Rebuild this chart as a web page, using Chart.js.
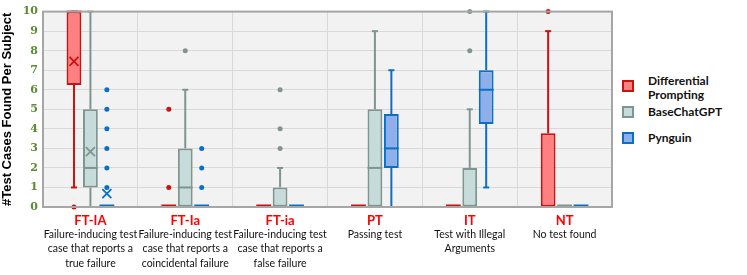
<!DOCTYPE html>
<html>
<head>
<meta charset="utf-8">
<script src="https://cdn.jsdelivr.net/npm/chart.js@4.4.1/dist/chart.umd.min.js"></script>
<style>
  body { margin: 0; background: #fff; }
  #wrap { position: relative; width: 747px; height: 275px; }
  #box { position: absolute; left: 0; top: 0; width: 618px; height: 275px; }
  #legend { position: absolute; left: 622px; top: 0; font-family: Lato, "Open Sans", sans-serif; font-weight: bold; font-size: 12px; color: #111; }
  .item { position: absolute; left: 0; white-space: nowrap; }
  .sw { position: absolute; left: 0; width: 8px; height: 8px; border: 2px solid; }
  .lbl { position: absolute; left: 26px; line-height: 13.5px; }
</style>
</head>
<body>
<div id="wrap">
  <div id="box"><canvas id="boxChart"></canvas></div>
  <div id="legend"></div>
</div>
<script>
const categories = ['FT-IA', 'FT-Ia', 'FT-ia', 'PT', 'IT', 'NT'];
const descriptions = [
  ['Failure-inducing test', 'case that reports a', 'true failure'],
  ['Failure-inducing test', 'case that reports a', 'coincidental failure'],
  ['Failure-inducing test', 'case that reports a', 'false failure'],
  ['Passing test'],
  ['Test with Illegal', 'Arguments'],
  ['No test found']
];
const yTicks = [0, 1, 2, 3, 4, 5, 6, 7, 8, 9, 10];

// Differential Prompting
const dpQ1 = [6.25, 0, 0, 0, 0, 0];
const dpQ3 = [10, 0, 0, 0, 0, 3.77];
const dpMedian = [10, 0, 0, 0, 0, 0];
const dpLow = [1, 0, 0, 0, 0, 0];
const dpHigh = [10, 0, 0, 0, 0, 9];
const dpMean = [7.45, null, null, null, null, null];
const dpOutliers = [[0], [1, 5], [], [], [], [10]];

// BaseChatGPT
const baseQ1 = [1, 0, 0, 0, 0, 0];
const baseQ3 = [5, 3, 1, 5, 2, 0];
const baseMedian = [2, 1, 0, 2, 0, 0];
const baseLow = [0, 0, 0, 0, 0, 0];
const baseHigh = [10, 6, 2, 9, 5, 0];
const baseMean = [2.83, null, null, null, null, null];
const baseOutliers = [[], [8], [3, 4, 6], [], [8, 10], []];

// Pynguin
const pyQ1 = [0, 0, 0, 2, 4.25, 0];
const pyQ3 = [0, 0, 0, 4.76, 7, 0];
const pyMedian = [0, 0, 0, 3, 6, 0];
const pyLow = [0, 0, 0, 0, 1, 0];
const pyHigh = [0, 0, 0, 7, 10, 0];
const pyMean = [0.69, null, null, null, null, null];
const pyOutliers = [[1, 2, 3, 4, 5, 6], [1, 2, 3], [], [], [], []];

const series = [
  { name: ['Differential', 'Prompting'], fill: '#ff8080', line: '#cc1111',
    q1: dpQ1, q3: dpQ3, median: dpMedian, low: dpLow, high: dpHigh, mean: dpMean, outliers: dpOutliers },
  { name: ['BaseChatGPT'], fill: '#c6dcdb', line: '#7f9590',
    q1: baseQ1, q3: baseQ3, median: baseMedian, low: baseLow, high: baseHigh, mean: baseMean, outliers: baseOutliers },
  { name: ['Pynguin'], fill: '#8fafeb', line: '#0a70c6',
    q1: pyQ1, q3: pyQ3, median: pyMedian, low: pyLow, high: pyHigh, mean: pyMean, outliers: pyOutliers }
];

// plot background + frame
const areaPlugin = {
  id: 'area',
  beforeDraw(chart) {
    const a = chart.chartArea, ctx = chart.ctx;
    ctx.save();
    ctx.fillStyle = '#f2f2f2';
    ctx.fillRect(a.left, a.top, a.right - a.left, a.bottom - a.top);
    ctx.restore();
  },
  afterDraw(chart) {
    const a = chart.chartArea, ctx = chart.ctx;
    ctx.save();
    ctx.strokeStyle = '#a6a6a6';
    ctx.lineWidth = 2;
    ctx.strokeRect(a.left, a.top, a.right - a.left, a.bottom - a.top);
    ctx.restore();
  }
};

// whiskers, medians, outliers and means on top of the floating bars
const boxPlugin = {
  id: 'boxparts',
  afterDatasetsDraw(chart) {
    const ctx = chart.ctx, y = chart.scales.y;
    ctx.save();
    series.forEach((s, i) => {
      const meta = chart.getDatasetMeta(i);
      meta.data.forEach((el, j) => {
        const x = el.x, half = el.width / 2;
        ctx.strokeStyle = s.line;
        ctx.fillStyle = s.line;
        ctx.lineWidth = 2;
        // whiskers
        [[s.low[j], s.q1[j]], [s.q3[j], s.high[j]]].forEach(([a, b]) => {
          if (a === b) return;
          ctx.beginPath();
          ctx.moveTo(x, y.getPixelForValue(a));
          ctx.lineTo(x, y.getPixelForValue(b));
          ctx.stroke();
        });
        [s.low[j], s.high[j]].forEach(v => {
          if (v === s.q1[j] && v === s.q3[j]) return;
          const py = y.getPixelForValue(v);
          ctx.beginPath();
          ctx.moveTo(x - 3, py);
          ctx.lineTo(x + 3, py);
          ctx.stroke();
        });
        // median
        const flat = s.q1[j] === s.q3[j];
        ctx.lineWidth = flat ? 3 : 2;
        const my = y.getPixelForValue(s.median[j]) - (flat ? 1 : 0);
        ctx.beginPath();
        ctx.moveTo(x - half, my);
        ctx.lineTo(x + half, my);
        ctx.stroke();
        // outliers
        s.outliers[j].forEach(v => {
          ctx.beginPath();
          ctx.arc(x, y.getPixelForValue(v), 2.5, 0, Math.PI * 2);
          ctx.fill();
        });
        // mean
        if (s.mean[j] !== null) {
          const py = y.getPixelForValue(s.mean[j]);
          ctx.lineWidth = 1.8;
          ctx.beginPath();
          ctx.moveTo(x - 4.5, py - 4.5); ctx.lineTo(x + 4.5, py + 4.5);
          ctx.moveTo(x + 4.5, py - 4.5); ctx.lineTo(x - 4.5, py + 4.5);
          ctx.stroke();
        }
      });
    });
    ctx.restore();
  }
};

const ctx = document.getElementById('boxChart').getContext('2d');

new Chart(ctx, {
  type: 'bar',
  data: {
    labels: categories,
    datasets: series.map(s => ({
      label: s.name.join(' '),
      data: s.q1.map((v, i) => [v, s.q3[i]]),
      backgroundColor: s.fill,
      borderColor: s.line,
      borderWidth: 2,
      borderSkipped: false,
      categoryPercentage: 0.52,
      barPercentage: 0.9
    }))
  },
  options: {
    responsive: true,
    maintainAspectRatio: false,
    animation: false,
    layout: { padding: { top: 11, right: 6, left: 0, bottom: 0 } },
    plugins: {
      legend: { display: false },
      tooltip: { enabled: false }
    },
    scales: {
      x: {
        grid: { color: '#d9d9d9', lineWidth: 1, drawTicks: false },
        border: { display: false },
        ticks: {
          color: '#ff0000',
          font: { family: 'Lato', weight: 'bold', size: 13 },
          padding: 6,
          maxRotation: 0,
          autoSkip: false
        },
        afterFit: axis => { axis.height = 20; }
      },
      x2: {
        type: 'category',
        labels: descriptions,
        position: 'bottom',
        offset: true,
        grid: { display: false, drawTicks: false },
        border: { display: false },
        ticks: {
          color: '#111',
          font: { family: 'Lato', size: 10.5, lineHeight: 1.38 },
          padding: 0,
          maxRotation: 0,
          autoSkip: false
        },
        afterFit: axis => { axis.height = 48; }
      },
      y: {
        min: 0,
        max: 10,
        afterBuildTicks: axis => { axis.ticks = yTicks.map(v => ({ value: v })); },
        grid: { color: '#d9d9d9', lineWidth: 1, drawTicks: false },
        border: { display: false },
        ticks: {
          color: '#5b8a32',
          font: { family: 'DejaVu Serif', weight: 'bold', size: 11 },
          padding: 5
        },
        title: {
          display: true,
          text: '#Test Cases Found Per Subject',
          color: '#000',
          font: { family: 'Liberation Sans', weight: 'bold', size: 13 },
          padding: { top: 0, bottom: 2 }
        },
        afterFit: axis => { axis.width = 43; }
      }
    }
  },
  plugins: [areaPlugin, boxPlugin]
});

// legend on the right
const legendTops = [74, 105, 131];
const legend = document.getElementById('legend');
series.forEach((s, i) => {
  const item = document.createElement('div');
  item.className = 'item';
  item.style.top = legendTops[i] + 'px';
  const sw = document.createElement('div');
  sw.className = 'sw';
  sw.style.background = s.fill;
  sw.style.borderColor = s.line;
  sw.style.top = (s.name.length > 1 ? 6 : 1) + 'px';
  const lbl = document.createElement('div');
  lbl.className = 'lbl';
  lbl.innerHTML = s.name.join('<br>');
  item.appendChild(sw);
  item.appendChild(lbl);
  legend.appendChild(item);
});
</script>
</body>
</html>
